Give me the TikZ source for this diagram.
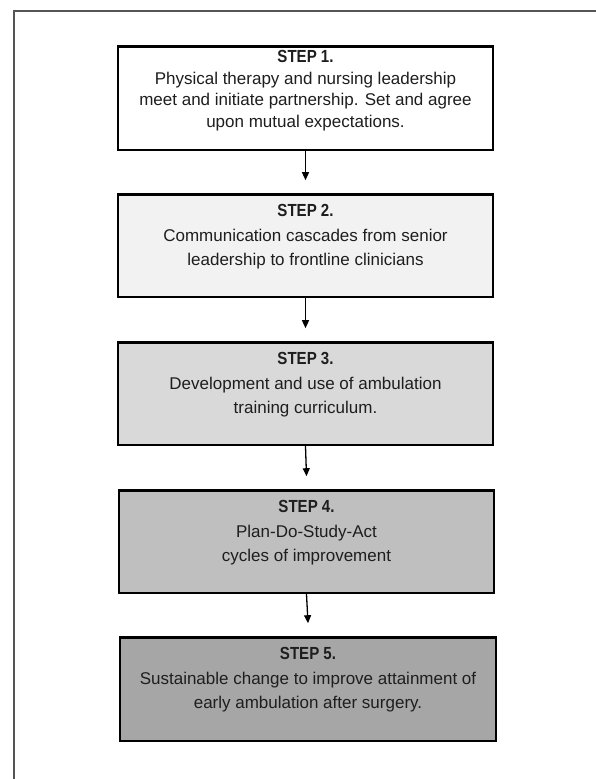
\documentclass[tikz,border=0pt]{standalone}
\usepackage{fontspec}
\setmainfont{Liberation Sans}
\newfontfamily\stepfont[FakeStretch=0.86]{Liberation Sans}
\usetikzlibrary{arrows.meta}
\definecolor{txt}{HTML}{1E1E1E}
\definecolor{fillA}{HTML}{FFFFFF}
\definecolor{fillB}{HTML}{F2F2F2}
\definecolor{fillC}{HTML}{D9D9D9}
\definecolor{fillD}{HTML}{BFBFBF}
\definecolor{fillE}{HTML}{A6A6A6}
\definecolor{framegrey}{HTML}{555555}
% #1 height, #2 width, #3 first baseline, #4 line skip, #5 step label, #6 body
\newcommand{\stepcontent}[6]{%
  \begin{minipage}[t][#1pt][t]{#2pt}\centering
  \fontsize{17}{#4pt}\selectfont\color{txt}%
  \rule{0pt}{#3pt}{\stepfont\bfseries\fontsize{17.5}{#4pt}\selectfont #5}\\
  #6\par
  \end{minipage}}
\begin{document}
\begin{tikzpicture}[x=1pt,y=-1pt,
  stepbox/.style={draw=black, line width=2.4pt, inner sep=0pt, anchor=north},
  conn/.style={draw=black, line width=1.3pt, -{Triangle[width=7pt,length=8pt]}},
  frameline/.style={draw=framegrey, line width=1.2pt}]
\useasboundingbox (0,0) rectangle (596,779);
\fill[white] (0,0) rectangle (596,779);
\draw[frameline] (14,779) -- (14,11) -- (596,11);

\node[stepbox, fill=fillA] (s1) at (305.5,45.2)
  {\stepcontent{103.6}{374.6}{15.8}{21.8}{STEP 1.}{Physical therapy and nursing leadership\\ meet and initiate partnership. Set and agree\\ upon mutual expectations.}};
\node[stepbox, fill=fillB] (s2) at (305.5,193.2)
  {\stepcontent{102.6}{374.6}{22.5}{24.5}{STEP 2.}{Communication cascades from senior\\ leadership to frontline clinicians}};
\node[stepbox, fill=fillC] (s3) at (305.5,341.2)
  {\stepcontent{102.6}{374.6}{22.5}{24.5}{STEP 3.}{Development and use of ambulation\\ training curriculum.}};
\node[stepbox, fill=fillD] (s4) at (306.5,489.2)
  {\stepcontent{102.6}{374.6}{22.5}{24.5}{STEP 4.}{Plan-Do-Study-Act\\ cycles of improvement}};
\node[stepbox, fill=fillE] (s5) at (308,636.2)
  {\stepcontent{103.6}{375.6}{22.5}{24.5}{STEP 5.}{Sustainable change to improve attainment of\\ early ambulation after surgery.}};

\draw[conn] (s1.south) -- ([yshift=13pt]s2.north);
\draw[conn] (s2.south) -- ([yshift=13pt]s3.north);
\draw[conn] (s3.south) -- ([yshift=13pt]s4.north);
\draw[conn] (s4.south) -- ([yshift=13pt]s5.north);
\end{tikzpicture}
\end{document}
